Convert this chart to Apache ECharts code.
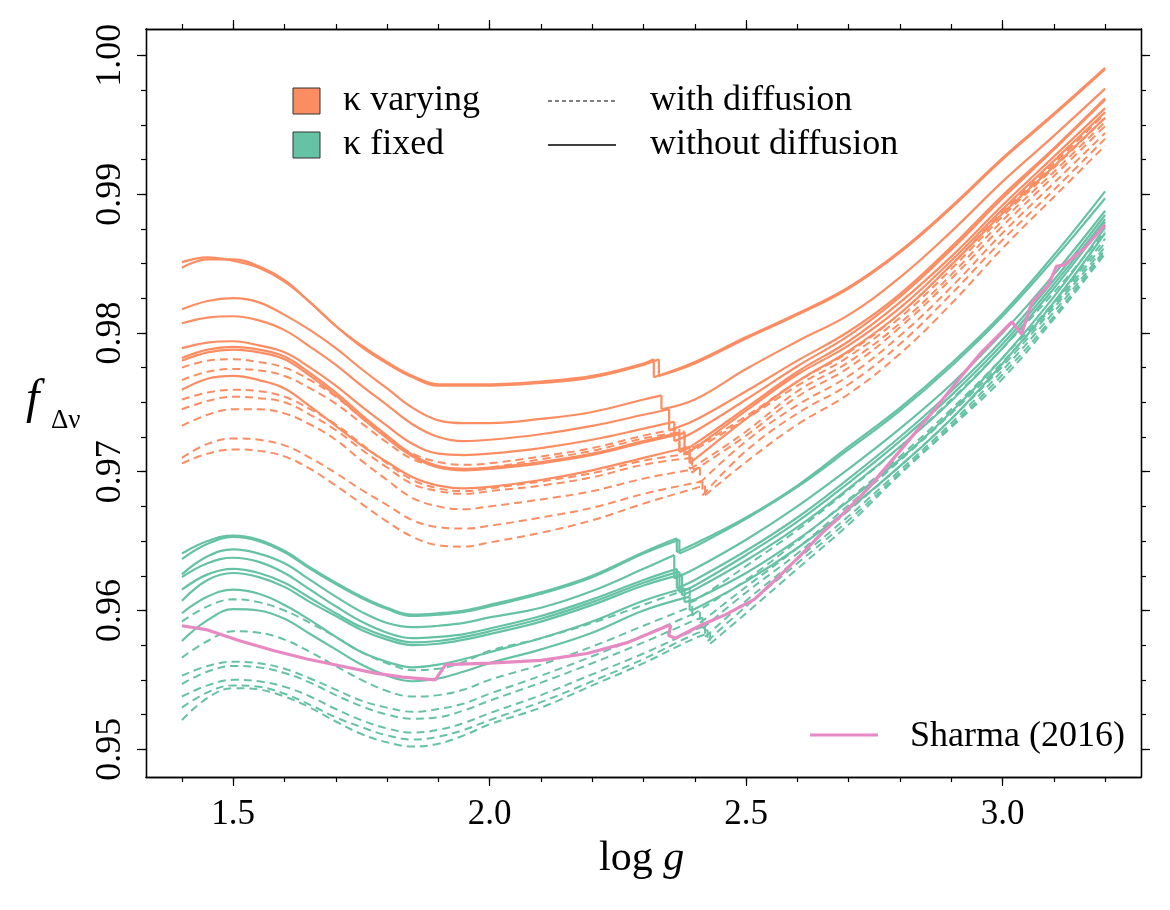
<!DOCTYPE html>
<html><head><meta charset="utf-8">
<script src="https://cdn.jsdelivr.net/npm/echarts@6/dist/echarts.min.js"></script>
<style>html,body{margin:0;padding:0;background:#fff}#c{width:1170px;height:910px}</style>
</head><body><div id="c"></div>
<script>
// shared log g grid (left part: first 16 values, right part: last 9 values)
const logg = [1.40,1.45,1.50,1.55,1.60,1.65,1.70,1.75,1.80,1.85,1.90,1.95,2.00,2.10,2.20,2.30,2.40,2.50,2.60,2.70,2.80,2.90,3.00,3.10,3.20];
const xTickValues = [1.4,1.5,1.6,1.7,1.8,1.9,2.0,2.1,2.2,2.3,2.4,2.5,2.6,2.7,2.8,2.9,3.0,3.1,3.2];
const xLabelValues = [1.5,2.0,2.5,3.0];
const yLabelValues = [0.95,0.96,0.97,0.98,0.99,1.00];
const yMinorValues = [0.95,0.9525,0.955,0.9575,0.96,0.9625,0.965,0.9675,0.97,0.9725,0.975,0.9775,0.98,0.9825,0.985,0.9875,0.99,0.9925,0.995,0.9975,1.0];

// kappa varying, without diffusion (solid orange): [left values], [jump x, before, after], [right values]
const orangeSolid = [
  [[.9851,.98545,.9852,.9847,.9837,.9822,.9805,.9791,.9779,.9769,.9763,.9763,.9763,.9765,.9769,.9778],[2.32,.9781,.9768],[.9779,.9797,.9814,.9833,.9859,.9891,.9926,.9958,.9991]],
  [[.9847,.9853,.9853,.9848,.9838,.9822,.9805,.9790,.9778,.9768,.9762,.9762,.9762,.9764,.9768,.9777],[2.33,.9781,.9769],[.9778,.9796,.9813,.9832,.9858,.9890,.9925,.9957,.9990]],
  [[.9817,.9823,.9825,.9822,.9813,.9802,.9789,.9774,.9760,.9746,.9737,.9735,.9735,.9738,.9743,.9752],[2.335,.9755,.9745],[.9752,.9774,.9794,.9813,.9840,.9873,.9909,.9942,.9976]],
  [[.9807,.9811,.9812,.9809,.9802,.9790,.9777,.9762,.9748,.9734,.9725,.9722,.9723,.9727,.9733,.9741],[2.35,.9745,.9730],[.9737,.9758,.9780,.9801,.9828,.9862,.9899,.9933,.9969]],
  [[.9789,.9793,.9794,.9791,.9786,.9775,.9762,.9747,.9733,.9720,.9713,.9712,.9713,.9717,.9723,.9731],[2.36,.9736,.9722],[.9729,.9752,.9776,.9798,.9826,.9860,.9897,.9932,.9968]],
  [[.9782,.9788,.9790,.9788,.9783,.9771,.9757,.9741,.9726,.9712,.9704,.9702,.9703,.9707,.9713,.9722],[2.37,.9728,.9714],[.9720,.9746,.9772,.9794,.9822,.9855,.9892,.9927,.9962]],
  [[.9780,.9786,.9788,.9786,.9781,.9769,.9755,.9739,.9724,.9711,.9703,.9701,.9702,.9706,.9712,.9721],[2.38,.9728,.9713],[.9717,.9744,.9770,.9791,.9818,.9852,.9889,.9924,.9959]],
  [[.9759,.9767,.9769,.9766,.9760,.9747,.9733,.9719,.9707,.9696,.9690,.9688,.9689,.9694,.9701,.9710],[2.39,.9718,.9706],[.9709,.9738,.9765,.9787,.9814,.9849,.9886,.9920,.9955]]
];
// kappa varying, with diffusion (dashed orange)
const orangeDashed = [
  [[.9775,.9780,.9781,.9779,.9775,.9766,.9754,.9739,.9725,.9713,.9707,.9705,.9706,.9711,.9717,.9726],[2.37,.9731,.9716],[.9718,.9740,.9765,.9786,.9814,.9849,.9887,.9922,.9958]],
  [[.9766,.9772,.9774,.9773,.9769,.9760,.9749,.9735,.9721,.9709,.9704,.9702,.9703,.9709,.9715,.9724],[2.38,.9729,.9714],[.9716,.9738,.9762,.9783,.9811,.9846,.9884,.9919,.9955]],
  [[.9752,.9757,.9759,.9758,.9754,.9745,.9734,.9720,.9706,.9694,.9688,.9686,.9688,.9693,.9699,.9708],[2.39,.9713,.9702],[.9704,.9729,.9758,.9779,.9807,.9842,.9881,.9916,.9952]],
  [[.9745,.9751,.9754,.9753,.9750,.9741,.9730,.9716,.9703,.9691,.9686,.9684,.9686,.9690,.9696,.9705],[2.395,.9710,.9699],[.9701,.9726,.9754,.9775,.9804,.9839,.9877,.9913,.9949]],
  [[.9733,.9741,.9745,.9745,.9742,.9734,.9723,.9708,.9694,.9681,.9675,.9673,.9675,.9680,.9686,.9695],[2.41,.9703,.9692],[.9702,.9722,.9748,.9769,.9798,.9833,.9872,.9908,.9944]],
  [[.9710,.9720,.9724,.9723,.9719,.9710,.9699,.9687,.9676,.9665,.9660,.9659,.9661,.9667,.9674,.9684],[2.415,.9693,.9683],[.9692,.9715,.9742,.9763,.9792,.9828,.9867,.9903,.9940]],
  [[.9706,.9713,.9716,.9715,.9711,.9702,.9690,.9677,.9664,.9653,.9647,.9646,.9649,.9656,.9665,.9677],[2.42,.9690,.9683],[.9688,.9707,.9734,.9756,.9785,.9821,.9861,.9898,.9935]]
];
// kappa fixed, without diffusion (solid green)
const greenSolid = [
  [[.9641,.9650,.9654,.9651,.9643,.9631,.9620,.9610,.9602,.9597,.9598,.9600,.9604,.9613,.9625,.9642],[2.365,.9652,.9642],[.9648,.9667,.9690,.9718,.9746,.9778,.9814,.9856,.9902]],
  [[.9637,.9648,.9653,.9650,.9642,.9630,.9619,.9609,.9601,.9596,.9597,.9599,.9603,.9612,.9624,.9641],[2.37,.9651,.9641],[.9646,.9666,.9689,.9716,.9744,.9776,.9812,.9853,.9897]],
  [[.9626,.9639,.9644,.9641,.9634,.9622,.9610,.9599,.9591,.9588,.9589,.9591,.9595,.9602,.9614,.9630],[2.36,.9640,.9623],[.9630,.9651,.9675,.9702,.9731,.9763,.9800,.9842,.9888]],
  [[.9624,.9634,.9638,.9635,.9627,.9615,.9603,.9592,.9584,.9580,.9581,.9583,.9587,.9596,.9608,.9622],[2.365,.9630,.9616],[.9622,.9643,.9667,.9695,.9725,.9758,.9795,.9838,.9885]],
  [[.9615,.9626,.9630,.9627,.9620,.9609,.9598,.9588,.9581,.9577,.9578,.9581,.9585,.9594,.9606,.9620],[2.37,.9628,.9613],[.9618,.9640,.9664,.9692,.9722,.9755,.9792,.9835,.9882]],
  [[.9607,.9622,.9627,.9624,.9617,.9606,.9596,.9586,.9579,.9575,.9576,.9579,.9583,.9592,.9604,.9618],[2.375,.9626,.9611],[.9615,.9636,.9660,.9688,.9718,.9751,.9789,.9832,.9880]],
  [[.9598,.9610,.9615,.9612,.9604,.9593,.9581,.9570,.9563,.9559,.9561,.9565,.9570,.9580,.9592,.9607],[2.38,.9616,.9606],[.9608,.9627,.9651,.9679,.9709,.9743,.9782,.9826,.9876]],
  [[.9578,.9593,.9601,.9600,.9594,.9583,.9572,.9561,.9553,.9549,.9551,.9556,.9562,.9572,.9584,.9600],[2.39,.9610,.9600],[.9601,.9621,.9645,.9673,.9704,.9738,.9778,.9822,.9872]]
];
// kappa fixed, with diffusion (dashed green)
const greenDashed = [
  [[.9592,.9603,.9608,.9606,.9600,.9591,.9581,.9570,.9562,.9557,.9558,.9563,.9571,.9580,.9591,.9604],[2.39,.9616,.9606],[.9607,.9632,.9658,.9687,.9718,.9752,.9789,.9829,.9873]],
  [[.9566,.9578,.9585,.9584,.9579,.9570,.9560,.9550,.9542,.9538,.9539,.9543,.9550,.9561,.9574,.9589],[2.395,.9603,.9596],[.9598,.9622,.9650,.9680,.9711,.9745,.9782,.9822,.9868]],
  [[.9553,.9560,.9563,.9562,.9558,.9551,.9543,.9535,.9530,.9527,.9529,.9533,.9540,.9553,.9567,.9582],[2.41,.9599,.9591],[.9598,.9617,.9645,.9676,.9708,.9742,.9779,.9820,.9865]],
  [[.9547,.9556,.9560,.9559,.9555,.9548,.9539,.9531,.9525,.9522,.9523,.9528,.9535,.9548,.9562,.9577],[2.415,.9595,.9587],[.9593,.9613,.9641,.9672,.9704,.9738,.9776,.9818,.9862]],
  [[.9538,.9546,.9550,.9549,.9545,.9538,.9529,.9521,.9515,.9512,.9514,.9519,.9526,.9539,.9554,.9569],[2.42,.9589,.9581],[.9586,.9607,.9637,.9668,.9701,.9735,.9773,.9815,.9860]],
  [[.9530,.9541,.9546,.9545,.9540,.9532,.9523,.9516,.9510,.9507,.9509,.9514,.9521,.9534,.9549,.9565],[2.425,.9586,.9578],[.9583,.9603,.9634,.9665,.9699,.9733,.9770,.9812,.9859]],
  [[.9521,.9537,.9544,.9543,.9538,.9530,.9520,.9511,.9505,.9502,.9504,.9510,.9518,.9530,.9546,.9562],[2.43,.9584,.9576],[.9580,.9598,.9630,.9662,.9698,.9732,.9767,.9810,.9857]]
];
// Sharma (2016)
const sharmaX = [1.40,1.45,1.514,1.58,1.644,1.71,1.774,1.83,1.894,1.914,2.00,2.10,2.19,2.27,2.347,2.353,2.349,2.362,2.41,2.46,2.516,2.56,2.607,2.646,2.69,2.738,2.80,2.868,2.92,2.959,3.018,3.037,3.057,3.089,3.105,3.12,3.16,3.20];
const sharmaY = [.9589,.9586,.9578,.9571,.9565,.9560,.9555,.9552,.9550,.9561,.9562,.9564,.9569,.9577,.9589,.9589,.9582,.9580,.9589,.9597,.9608,.9623,.9640,.9655,.9670,.9688,.9715,.9745,.9769,.9786,.9808,.9799,.9822,.9834,.9848,.9849,.9861,.9878];

const ORANGE = '#fc8d62', GREEN = '#66c2a5', PINK = '#e78ac3';
const FONT = '"Liberation Serif", "DejaVu Serif", serif';

// split a model line into: smooth part before the jump, the jump itself, smooth part after it
function buildParts(def) {
  const vals = def[0].concat(def[2]);
  const pts = logg.map((x, i) => [x, vals[i]]);
  const j = def[1];
  const before = pts.filter(p => p[0] < j[0]).concat([[j[0], j[1]]]);
  const after = [[j[0], j[2]]].concat(pts.filter(p => p[0] > j[0]));
  const step = [[j[0], j[1]], [j[0], j[2]]];
  return [before, step, after];
}

const series = [];
function addFamily(list, color, dashed) {
  list.forEach(def => {
    const parts = buildParts(def);
    parts.forEach((data, k) => {
      series.push({
        type: 'line', data: data, xAxisIndex: 0, yAxisIndex: 0,
        showSymbol: false, smooth: k === 1 ? false : 0.4, silent: true,
        lineStyle: { color: color, width: dashed ? 2 : 2.2, type: dashed ? [8, 5] : 'solid' },
        animation: false
      });
    });
  });
}
addFamily(greenDashed, GREEN, true);
addFamily(greenSolid, GREEN, false);
addFamily(orangeDashed, ORANGE, true);
addFamily(orangeSolid, ORANGE, false);
series.push({
  type: 'line', data: sharmaX.map((x, i) => [x, sharmaY[i]]), showSymbol: false, smooth: false,
  lineStyle: { color: PINK, width: 3.2 }, animation: false, silent: true
});

const XMIN = 1.33, XMAX = 3.27, YMIN = 0.948, YMAX = 1.0019;
const axisLineStyle = { color: '#000', width: 1.3 };
function xAx(pos, ticks, len, labels) {
  return {
    type: 'value', min: XMIN, max: XMAX, position: pos, gridIndex: 0,
    axisLine: { show: true, onZero: false, lineStyle: axisLineStyle },
    axisTick: { show: true, inside: false, length: len, customValues: ticks, lineStyle: { color: '#000', width: 1.2 } },
    axisLabel: labels ? { show: true, customValues: xLabelValues, formatter: v => v.toFixed(1), fontFamily: FONT, fontSize: 35, color: '#000', margin: 20 } : { show: false },
    splitLine: { show: false }
  };
}
function yAx(pos, ticks, len, labels) {
  return {
    type: 'value', min: YMIN, max: YMAX, position: pos, gridIndex: 0,
    axisLine: { show: true, onZero: false, lineStyle: axisLineStyle },
    axisTick: { show: true, inside: false, length: len, customValues: ticks, lineStyle: { color: '#000', width: 1.2 } },
    axisLabel: labels ? { show: true, customValues: yLabelValues, formatter: v => v.toFixed(2), rotate: 90, fontFamily: FONT, fontSize: 36, color: '#000', margin: 17 } : { show: false },
    splitLine: { show: false }
  };
}

const chart = echarts.init(document.getElementById('c'), null, { renderer: 'canvas' });
chart.setOption({
  backgroundColor: '#fff',
  animation: false,
  grid: { left: 146, top: 29, width: 995, height: 748, containLabel: false },
  xAxis: [
    xAx('bottom', xLabelValues, 9, true),
    xAx('bottom', xTickValues, 5, false),
    xAx('top', xLabelValues, 9, false),
    xAx('top', xTickValues, 5, false)
  ],
  yAxis: [
    yAx('left', yLabelValues, 9, true),
    yAx('left', yMinorValues, 5, false),
    yAx('right', yLabelValues, 9, false),
    yAx('right', yMinorValues, 5, false)
  ],
  series: series,
  graphic: [
    { type: 'text', left: 599, top: 838, style: { text: '{a|log }{b|g}', rich: { a: { fontFamily: FONT, fontSize: 42, fill: '#000' }, b: { fontFamily: FONT, fontSize: 42, fontStyle: 'italic', fill: '#000' } } } },
    { type: 'text', left: 26, top: 376, style: { text: 'f', fontFamily: FONT, fontSize: 48, fontStyle: 'italic', fill: '#000' } },
    { type: 'text', left: 51, top: 407, style: { text: 'Δν', fontFamily: FONT, fontSize: 27, fill: '#000' } },
    { type: 'rect', shape: { x: 293, y: 88, width: 27, height: 26 }, style: { fill: ORANGE, stroke: '#333', lineWidth: 1 } },
    { type: 'rect', shape: { x: 293, y: 132, width: 27, height: 26 }, style: { fill: GREEN, stroke: '#333', lineWidth: 1 } },
    { type: 'text', left: 343, top: 83, style: { text: 'κ varying', fontFamily: FONT, fontSize: 36, fill: '#000' } },
    { type: 'text', left: 343, top: 127, style: { text: 'κ fixed', fontFamily: FONT, fontSize: 36, fill: '#000' } },
    { type: 'line', shape: { x1: 548, y1: 101, x2: 616, y2: 101 }, style: { stroke: '#000', lineWidth: 1.2, lineDash: [4, 3] } },
    { type: 'line', shape: { x1: 548, y1: 145, x2: 616, y2: 145 }, style: { stroke: '#000', lineWidth: 1.4 } },
    { type: 'text', left: 650, top: 83, style: { text: 'with diffusion', fontFamily: FONT, fontSize: 36, fill: '#000' } },
    { type: 'text', left: 650, top: 127, style: { text: 'without diffusion', fontFamily: FONT, fontSize: 36, fill: '#000' } },
    { type: 'line', shape: { x1: 810, y1: 735, x2: 878, y2: 735 }, style: { stroke: PINK, lineWidth: 3 } },
    { type: 'text', left: 910, top: 719, style: { text: 'Sharma (2016)', fontFamily: FONT, fontSize: 36, fill: '#000' } }
  ]
});
</script>
</body></html>
